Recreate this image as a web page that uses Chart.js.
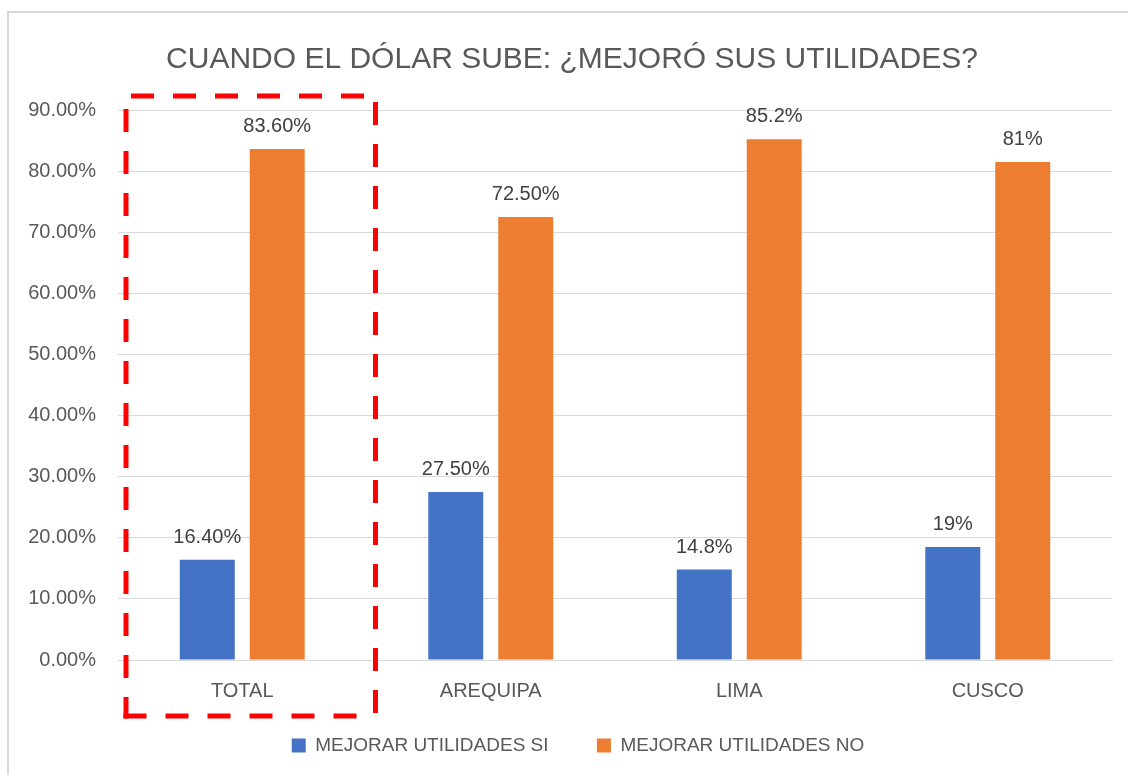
<!DOCTYPE html>
<html>
<head>
<meta charset="utf-8">
<script src="https://cdn.jsdelivr.net/npm/chart.js@4.4.0/dist/chart.umd.min.js"></script>
<style>
  html, body { margin: 0; padding: 0; background: #fff; }
  #frame { position: absolute; left: 7px; top: 11px; width: 1200px; height: 800px; border: 2px solid #d9d9d9; box-sizing: border-box; }
  #wrap { position: absolute; left: 0; top: 0; width: 1128px; height: 775px; }
</style>
</head>
<body>
<div id="frame"></div>
<div id="wrap"><canvas id="chart"></canvas></div>
<script>
const categories = ['TOTAL', 'AREQUIPA', 'LIMA', 'CUSCO'];
const seriesNames = ['MEJORAR UTILIDADES SI', 'MEJORAR UTILIDADES NO'];
const siValues = [16.4, 27.5, 14.8, 18.5];
const noValues = [83.6, 72.5, 85.2, 81.5];
const siLabels = ['16.40%', '27.50%', '14.8%', '19%'];
const noLabels = ['83.60%', '72.50%', '85.2%', '81%'];
const yTicks = [0, 10, 20, 30, 40, 50, 60, 70, 80, 90];

const FONT = "'Liberation Sans', 'DejaVu Sans', sans-serif";
const TEXT = '#595959';

// value labels above each bar
const barLabels = {
  id: 'barLabels',
  afterDatasetsDraw(chart) {
    const ctx = chart.ctx;
    const texts = [siLabels, noLabels];
    ctx.save();
    ctx.font = '20px ' + FONT;
    ctx.fillStyle = '#404040';
    ctx.textAlign = 'center';
    ctx.textBaseline = 'alphabetic';
    chart.data.datasets.forEach((ds, i) => {
      chart.getDatasetMeta(i).data.forEach((bar, j) => {
        ctx.fillText(texts[i][j], bar.x, bar.y - 17);
      });
    });
    ctx.restore();
  }
};

// red dashed highlight around the TOTAL group, each side dashed on its own
const highlight = {
  id: 'highlight',
  afterDraw(chart) {
    const x = chart.scales.x, area = chart.chartArea;
    const half = (x.getPixelForValue(1) - x.getPixelForValue(0)) / 2;
    const cx = x.getPixelForValue(0);
    const l = cx - half + 8, r = cx + half + 9;
    const t = area.top - 14, b = area.bottom + 56;
    const ctx = chart.ctx;
    const side = (x1, y1, x2, y2, off) => {
      ctx.lineDashOffset = off;
      ctx.beginPath();
      ctx.moveTo(x1, y1);
      ctx.lineTo(x2, y2);
      ctx.stroke();
    };
    ctx.save();
    ctx.strokeStyle = '#ff0000';
    ctx.lineWidth = 5;
    ctx.lineCap = 'butt';
    ctx.setLineDash([23, 19]);
    side(l, t, r, t, 37);
    side(r, t, r, b, 36);
    side(l, t, l, b + 2.5, 29);
    side(l - 2.5, b, r, b, 0);
    ctx.restore();
  }
};

// nudge title and legend a little right, like the original
const nudge = {
  id: 'nudge',
  afterLayout(chart) {
    if (chart.titleBlock) { chart.titleBlock.left += 8; chart.titleBlock.right += 8; }
    if (chart.legend) { chart.legend.left += 14; chart.legend.right += 14; }
  }
};

new Chart(document.getElementById('chart'), {
  type: 'bar',
  data: {
    labels: categories,
    datasets: [
      { label: seriesNames[0], data: siValues, backgroundColor: '#4472c4', categoryPercentage: 0.563, barPercentage: 0.786 },
      { label: seriesNames[1], data: noValues, backgroundColor: '#ed7d31', categoryPercentage: 0.563, barPercentage: 0.786 }
    ]
  },
  options: {
    responsive: true,
    maintainAspectRatio: false,
    animation: false,
    layout: { padding: { left: 16, right: 16, top: 42, bottom: 10 } },
    scales: {
      x: {
        grid: { display: false },
        border: { color: '#d9d9d9', width: 1 },
        ticks: { color: TEXT, font: { family: FONT, size: 20 }, padding: 11 }
      },
      y: {
        min: 0, max: 90,
        afterFit(scale) { scale.width = 102; },
        afterBuildTicks(scale) { scale.ticks = yTicks.map(v => ({ value: v })); },
        grid: { color: '#d9d9d9', lineWidth: 1, drawTicks: true, tickLength: 0 },
        border: { display: false },
        ticks: {
          color: TEXT, font: { family: FONT, size: 20 }, padding: 22,
          callback: v => v.toFixed(2) + '%'
        }
      }
    },
    plugins: {
      title: {
        display: true,
        text: 'CUANDO EL DÓLAR SUBE: ¿MEJORÓ SUS UTILIDADES?',
        color: TEXT,
        font: { family: FONT, size: 30, weight: 'normal' },
        padding: { top: 0, bottom: 32 }
      },
      legend: {
        position: 'bottom',
        labels: {
          color: TEXT, font: { family: FONT, size: 19 }, boxWidth: 14, boxHeight: 14, padding: 22,
          generateLabels(chart) {
            const items = Chart.defaults.plugins.legend.labels.generateLabels(chart);
            // wider gap between the two entries
            items[0].text += '     ';
            return items;
          }
        }
      },
      tooltip: { enabled: false }
    }
  },
  plugins: [barLabels, highlight, nudge]
});
</script>
</body>
</html>
